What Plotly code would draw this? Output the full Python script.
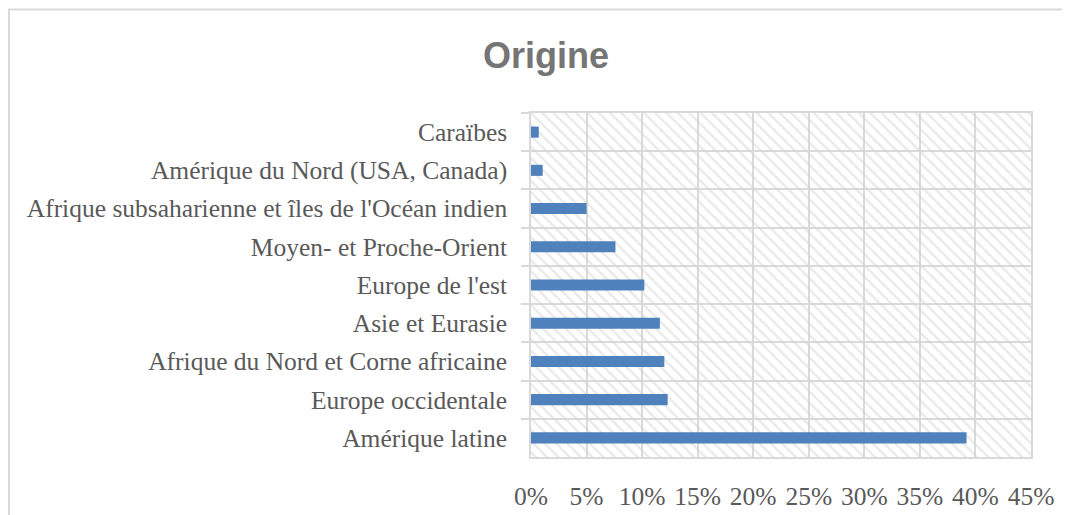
import plotly.graph_objects as go

categories = [
    "Caraïbes",
    "Amérique du Nord (USA, Canada)",
    "Afrique subsaharienne et îles de l'Océan indien",
    "Moyen- et Proche-Orient",
    "Europe de l'est",
    "Asie et Eurasie",
    "Afrique du Nord et Corne africaine",
    "Europe occidentale",
    "Amérique latine",
]
values = [0.007, 0.0105, 0.050, 0.076, 0.102, 0.116, 0.120, 0.123, 0.392]
x_max = 0.45
tick_vals = [0, 0.05, 0.10, 0.15, 0.20, 0.25, 0.30, 0.35, 0.40, 0.45]
tick_text = ["0%", "5%", "10%", "15%", "20%", "25%", "30%", "35%", "40%", "45%"]

grid = "#d9d9d9"
text_col = "#595959"
serif = "Liberation Serif"

# page has an 8px body margin: work in figure coords (screen - 8)
L, R, T, B = 523, 1023, 105, 451
W, H = 1070, 515

fig = go.Figure()
# hatched background
fig.add_trace(go.Bar(
    y=categories, x=[x_max] * len(categories), orientation="h", width=1,
    marker=dict(color="rgba(0,0,0,0)", line=dict(width=0),
                pattern=dict(shape="\\", size=8, solidity=0.3,
                             fgcolor="#d4d4d4", bgcolor="rgba(0,0,0,0)", fillmode="overlay")),
    hoverinfo="skip", showlegend=False,
))
fig.add_trace(go.Bar(
    y=categories, x=values, orientation="h", width=0.29,
    marker=dict(color="#4f81bd", line=dict(width=0)),
    showlegend=False,
))

fig.update_layout(
    width=W, height=H,
    margin=dict(l=L, r=W - R, t=T, b=H - B),
    paper_bgcolor="white", plot_bgcolor="white",
    barmode="overlay",
    title=dict(text="<b>Origine</b>", x=538 / W, xanchor="center",
               y=1 - 47 / H, yanchor="middle",
               font=dict(family="Liberation Sans", size=36, color="#757575")),
    xaxis=dict(range=[0, x_max], tickvals=tick_vals, ticktext=tick_text,
               showgrid=True, gridcolor=grid, gridwidth=1.5, zeroline=False,
               showline=True, mirror=True, linecolor=grid, linewidth=1.5,
               ticks="", ticklabelstandoff=16,
               tickfont=dict(family=serif, size=25.5, color=text_col)),
    yaxis=dict(autorange="reversed", type="category",
               tickson="boundaries", ticks="outside", ticklen=8, tickcolor=grid, tickwidth=1.5,
               showgrid=True, gridcolor=grid, gridwidth=1.5,
               showline=True, mirror=True, linecolor=grid, linewidth=1.5,
               ticklabelstandoff=17,
               tickfont=dict(family=serif, size=25.5, color=text_col)),
    shapes=[dict(type="rect", xref="paper", yref="paper",
                 x0=(1 - L) / (R - L), x1=(1080 - L) / (R - L),
                 y0=(B - 525) / (B - T), y1=(B - 1) / (B - T),
                 line=dict(color=grid, width=2), fillcolor="rgba(0,0,0,0)", layer="below")],
)

fig.write_html("out.html")
